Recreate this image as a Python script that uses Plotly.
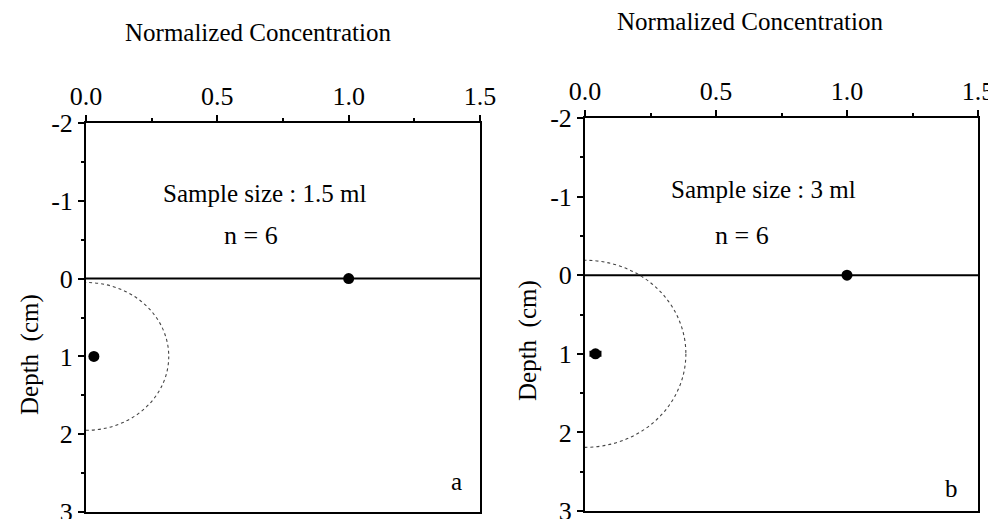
import plotly.graph_objects as go

# ---- data ----
conc_ticks = [0.0, 0.5, 1.0, 1.5]
conc_tick_labels = ["0.0", "0.5", "1.0", "1.5"]
depth_ticks = [-2, -1, 0, 1, 2, 3]
depth_tick_labels = ["-2", "-1", "0", "1", "2", "3"]

panel_letters = ["a", "b"]
sample_sizes = ["1.5 ml", "3 ml"]
n_values = [6, 6]

# measured points (depth in cm, normalized concentration)
a_depth = [0, 1]
a_conc = [1.0, 0.03]
a_err = [0.0, 0.01]
b_depth = [0, 1]
b_conc = [1.0, 0.04]
b_err = [0.01, 0.02]

# sampling-volume sketch (half ellipse against the wall)
sphere_center_depth = [1.0, 1.0]
sphere_radius_depth = [0.95, 1.19]
sphere_radius_conc = [0.315, 0.385]
surface_depth = 0

FONT = "Liberation Serif, Times New Roman, serif"
W, H = 996, 519
OFF = 8  # page body margin


def px(sx):
    return (sx - OFF) / W


def py(sy):
    return 1 - (sy - OFF) / H


fig = go.Figure()

series = [(a_conc, a_depth, a_err), (b_conc, b_depth, b_err)]
for i, (xc, yd, er) in enumerate(series):
    sfx = "" if i == 0 else "2"
    fig.add_trace(go.Scatter(
        x=xc, y=yd, mode="markers",
        marker=dict(color="black", size=11, symbol="circle"),
        error_x=dict(type="data", array=er, visible=True, color="black",
                     thickness=1.5, width=3),
        xaxis="x" + sfx, yaxis="y" + sfx, showlegend=False,
        cliponaxis=False,
    ))

x_domains = [[px(86), px(480)], [px(585), px(978)]]
y_domains = [[py(512), py(123)], [py(511), py(118)]]

TICK_SIZE = 26
layout = dict(
    width=W, height=H,
    margin=dict(l=0, r=0, t=0, b=0),
    paper_bgcolor="white", plot_bgcolor="white",
    font=dict(family=FONT, size=TICK_SIZE, color="black"),
    template="none",
    showlegend=False,
)

for i in range(2):
    sfx = "" if i == 0 else "2"
    layout["xaxis" + sfx] = dict(
        domain=x_domains[i], anchor="y" + sfx, side="top",
        range=[conc_ticks[0], conc_ticks[-1]],
        tickmode="array", tickvals=conc_ticks, ticktext=conc_tick_labels,
        ticks="outside", ticklen=6, tickwidth=1.5, tickcolor="black",
        minor=dict(dtick=0.25, ticks="outside", ticklen=3, tickwidth=1.5,
                   tickcolor="black", showgrid=False),
        showline=True, linewidth=2, linecolor="black", mirror=True,
        showgrid=False, zeroline=False, automargin=False,
        ticklabeloverflow="allow",
        tickfont=dict(family=FONT, size=TICK_SIZE),
    )
    layout["yaxis" + sfx] = dict(
        domain=y_domains[i], anchor="x" + sfx,
        range=[depth_ticks[-1], depth_ticks[0]],
        tickmode="array", tickvals=depth_ticks, ticktext=depth_tick_labels,
        ticks="outside", ticklen=6, tickwidth=1.5, tickcolor="black",
        minor=dict(dtick=0.5, ticks="outside", ticklen=3, tickwidth=1.5,
                   tickcolor="black", showgrid=False),
        showline=True, linewidth=2, linecolor="black", mirror=True,
        showgrid=False, zeroline=False, automargin=False,
        ticklabeloverflow="allow",
        tickfont=dict(family=FONT, size=TICK_SIZE),
    )

fig.update_layout(**layout)

# surface line and sampling-volume sketches
for i in range(2):
    sfx = "" if i == 0 else "2"
    fig.add_shape(type="line", xref="x" + sfx + " domain", yref="y" + sfx,
                  x0=0, x1=1, y0=surface_depth, y1=surface_depth,
                  line=dict(color="black", width=2))
    fig.add_shape(type="circle", xref="x" + sfx, yref="y" + sfx,
                  x0=-sphere_radius_conc[i], x1=sphere_radius_conc[i],
                  y0=sphere_center_depth[i] - sphere_radius_depth[i],
                  y1=sphere_center_depth[i] + sphere_radius_depth[i],
                  line=dict(color="#444444", width=1.1, dash="3px,3px"))

# text annotations (data coordinates)
text_pos = [
    dict(sx=0.68, sy=-1.1, nx=0.63, ny=-0.55, lx=1.41, ly=2.61),
    dict(sx=0.68, sy=-1.09, nx=0.60, ny=-0.5, lx=1.40, ly=2.72),
]
for i in range(2):
    sfx = "" if i == 0 else "2"
    p = text_pos[i]
    fig.add_annotation(x=p["sx"], y=p["sy"], xref="x" + sfx, yref="y" + sfx,
                       text="Sample size : " + sample_sizes[i], showarrow=False,
                       xanchor="center", yanchor="middle",
                       font=dict(family=FONT, size=25))
    fig.add_annotation(x=p["nx"], y=p["ny"], xref="x" + sfx, yref="y" + sfx,
                       text="n = %d" % n_values[i], showarrow=False,
                       xanchor="center", yanchor="middle",
                       font=dict(family=FONT, size=26))
    fig.add_annotation(x=p["lx"], y=p["ly"], xref="x" + sfx, yref="y" + sfx,
                       text=panel_letters[i], showarrow=False,
                       xanchor="center", yanchor="middle",
                       font=dict(family=FONT, size=25))

titles = [dict(x=258, y=33), dict(x=750, y=21)]
ylabels = [dict(x=30, y=355), dict(x=528, y=341)]
for i in range(2):
    fig.add_annotation(x=px(titles[i]["x"]), y=py(titles[i]["y"]),
                       xref="paper", yref="paper", text="Normalized Concentration",
                       xanchor="center", yanchor="middle",
                       showarrow=False, font=dict(family=FONT, size=25))
    fig.add_annotation(x=px(ylabels[i]["x"]), y=py(ylabels[i]["y"]),
                       xref="paper", yref="paper", text="Depth  (cm)",
                       xanchor="center", yanchor="middle",
                       textangle=-90, showarrow=False,
                       font=dict(family=FONT, size=25))

fig.write_html("out.html")
